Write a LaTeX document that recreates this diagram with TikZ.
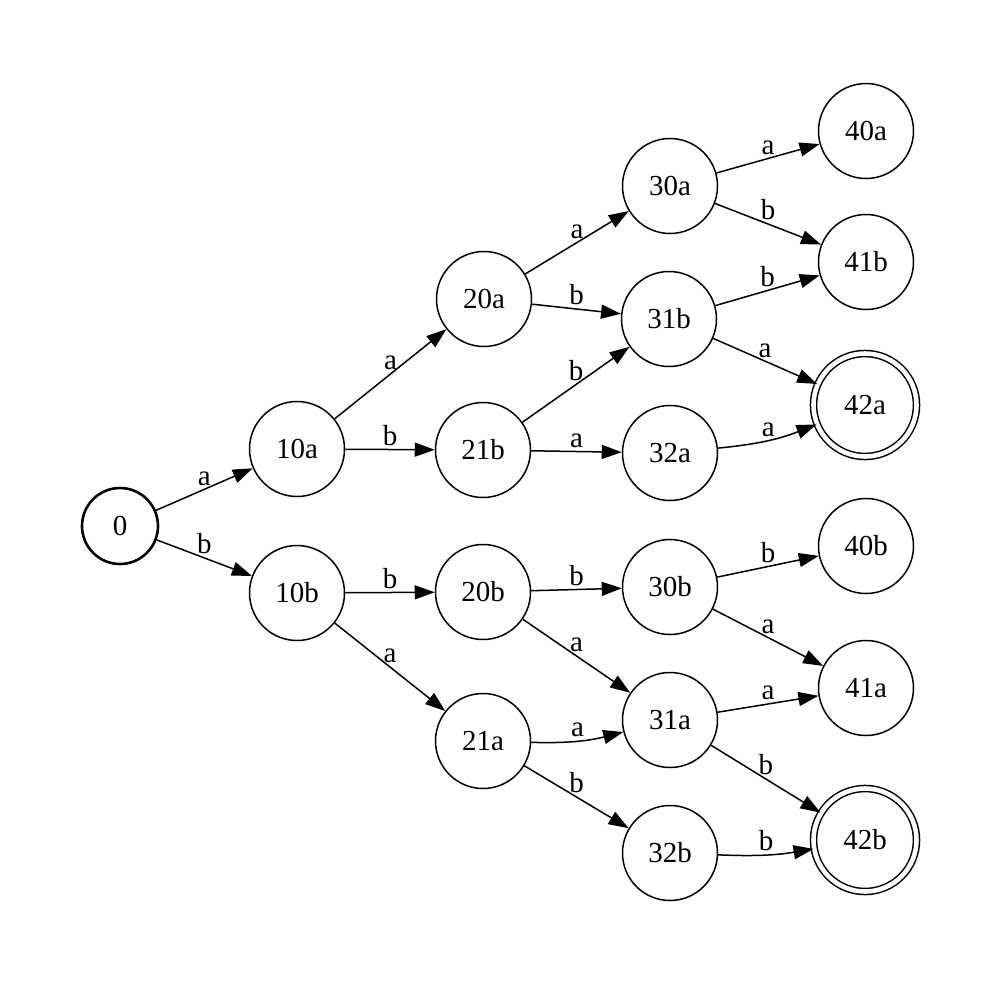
\documentclass[tikz,border=0pt]{standalone}
\usepackage{fontspec}
\setmainfont{Liberation Serif}
\usetikzlibrary{arrows.meta}
\begin{document}
\begin{tikzpicture}[x=0.5pt,y=-0.5pt,
  every node/.style={font=\fontsize{14.5pt}{16pt}\selectfont},
  state/.style={circle,draw,line width=0.75pt,minimum size=47.5pt,inner sep=0pt},
  startstate/.style={circle,draw,line width=1.3pt,minimum size=38pt,inner sep=0pt},
  accept/.style={circle,draw,line width=0.75pt,double,double distance=2.3pt,minimum size=51.5pt,inner sep=0pt},
  tr/.style={-{Triangle[length=10pt,width=7pt]},line width=0.75pt},
  lab/.style={above,inner sep=1.5pt}]
\useasboundingbox (0,0) rectangle (1007,986);
\node[startstate] (n0) at (120,526) {0};
\node[state] (n10a) at (297,449) {10a};
\node[state] (n10b) at (297,593) {10b};
\node[state] (n20a) at (484,299) {20a};
\node[state] (n21b) at (483,450) {21b};
\node[state] (n20b) at (483,592) {20b};
\node[state] (n21a) at (483,741) {21a};
\node[state] (n30a) at (670,186) {30a};
\node[state] (n31b) at (669,319) {31b};
\node[state] (n32a) at (670,453) {32a};
\node[state] (n30b) at (670,587) {30b};
\node[state] (n31a) at (670,720) {31a};
\node[state] (n32b) at (670,853) {32b};
\node[state] (n40a) at (866,131) {40a};
\node[state] (n41b) at (866,262) {41b};
\node[accept] (n42a) at (865,405) {42a};
\node[state] (n40b) at (866,546) {40b};
\node[state] (n41a) at (866,688) {41a};
\node[accept] (n42b) at (865,840) {42b};
\draw[tr] (n0) -- node[lab] {a} (n10a);
\draw[tr] (n0) -- node[lab] {b} (n10b);
\draw[tr] (n10a) -- node[lab] {a} (n20a);
\draw[tr] (n10a) -- node[lab] {b} (n21b);
\draw[tr] (n10b) -- node[lab] {b} (n20b);
\draw[tr] (n10b) -- node[lab] {a} (n21a);
\draw[tr] (n20a) -- node[lab] {a} (n30a);
\draw[tr] (n20a) -- node[lab] {b} (n31b);
\draw[tr] (n21b) -- node[lab] {b} (n31b);
\draw[tr] (n21b) -- node[lab] {a} (n32a);
\draw[tr] (n20b) -- node[lab] {b} (n30b);
\draw[tr] (n20b) -- node[lab] {a} (n31a);
\draw[tr] (n21a) to[bend right=8] node[lab] {a} (n31a);
\draw[tr] (n21a) -- node[lab] {b} (n32b);
\draw[tr] (n30a) -- node[lab] {a} (n40a);
\draw[tr] (n30a) -- node[lab] {b} (n41b);
\draw[tr] (n31b) -- node[lab] {b} (n41b);
\draw[tr] (n31b) -- node[lab] {a} (n42a);
\draw[tr] (n32a) to[bend right=8] node[lab] {a} (n42a);
\draw[tr] (n30b) -- node[lab] {b} (n40b);
\draw[tr] (n30b) -- node[lab] {a} (n41a);
\draw[tr] (n31a) -- node[lab] {a} (n41a);
\draw[tr] (n31a) -- node[lab] {b} (n42b);
\draw[tr] (n32b) to[bend right=6] node[lab] {b} (n42b);
\end{tikzpicture}
\end{document}
